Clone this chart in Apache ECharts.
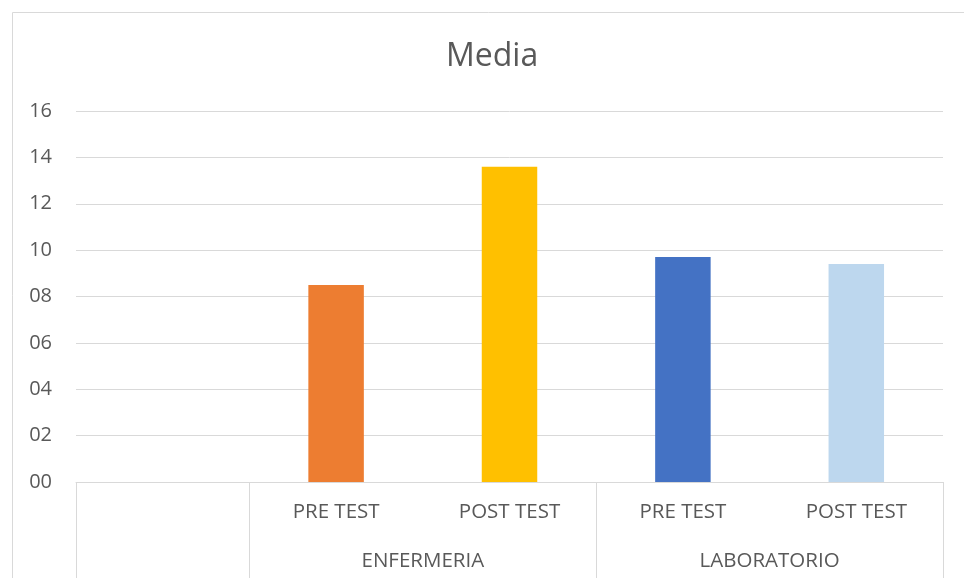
<!DOCTYPE html>
<html>
<head>
<meta charset="utf-8">
<script src="https://cdn.jsdelivr.net/npm/echarts@6/dist/echarts.min.js"></script>
<style>
html,body{margin:0;padding:0;background:#fff;}
#c{width:964px;height:578px;}
</style>
</head>
<body>
<div id="c"></div>
<script>
var categories = ['', 'PRE TEST', 'POST TEST', 'PRE TEST', 'POST TEST'];
var groups = ['', 'ENFERMERIA', 'ENFERMERIA', 'LABORATORIO', 'LABORATORIO'];
var values = [null, 8.5, 13.6, 9.7, 9.4];
var barColors = ['#ffffff', '#ED7D31', '#FFC000', '#4472C4', '#BDD7EE'];
var yTicks = ['00', '02', '04', '06', '08', '10', '12', '14', '16'];

// group centers and boundaries derived from the category list
var groupCenters = {};
var boundaries = {};
(function () {
  var start = 0;
  for (var i = 1; i <= groups.length; i++) {
    if (i === groups.length || groups[i] !== groups[start]) {
      if (groups[start]) groupCenters[(start + i) / 2] = groups[start];
      boundaries[start] = true;
      start = i;
    }
  }
})();

var font = 'Open Sans';
var txt = '#595959';
var gridCol = '#d9d9d9';

var chart = echarts.init(document.getElementById('c'));
chart.setOption({
  animation: false,
  title: {
    text: 'Media',
    left: 441,
    top: 36,
    textStyle: { fontFamily: font, fontSize: 32, fontWeight: 'normal', color: txt }
  },
  graphic: [{
    type: 'rect',
    shape: { x: 12.5, y: 12.5, width: 1000, height: 1000 },
    style: { fill: 'none', stroke: gridCol, lineWidth: 1 },
    silent: true
  }],
  grid: { left: 76, right: 21, top: 111, bottom: 96 },
  xAxis: [{
    type: 'category',
    data: categories,
    axisLine: { show: true, lineStyle: { color: gridCol, width: 1 } },
    axisTick: {
      show: true,
      length: 96,
      interval: function (index) { return !!boundaries[index]; },
      lineStyle: { color: gridCol, width: 1 }
    },
    axisLabel: { margin: 20, interval: 0, fontFamily: font, fontSize: 20.5, color: txt },
    splitLine: { show: false }
  }, {
    type: 'value',
    position: 'bottom',
    min: 0,
    max: categories.length,
    interval: 1,
    axisLine: { show: false },
    axisTick: { show: false },
    splitLine: { show: false },
    axisLabel: {
      margin: 69,
      fontFamily: font, fontSize: 20.5, color: txt,
      showMinLabel: true, showMaxLabel: true,
      formatter: function (v) { return groupCenters[v] || ''; }
    }
  }],
  yAxis: {
    type: 'value',
    min: 0,
    max: 16,
    interval: 2,
    axisLine: { show: false },
    axisTick: { show: false },
    splitLine: { lineStyle: { color: gridCol, width: 1 } },
    axisLabel: {
      margin: 24,
      fontFamily: font, fontSize: 20, color: txt,
      formatter: function (v) { return yTicks[Math.round(v / 2)]; }
    }
  },
  series: [{
    type: 'bar',
    xAxisIndex: 0,
    barWidth: '32%',
    data: values.map(function (v, i) {
      return { value: v, itemStyle: { color: barColors[i] } };
    })
  }]
});
</script>
</body>
</html>
